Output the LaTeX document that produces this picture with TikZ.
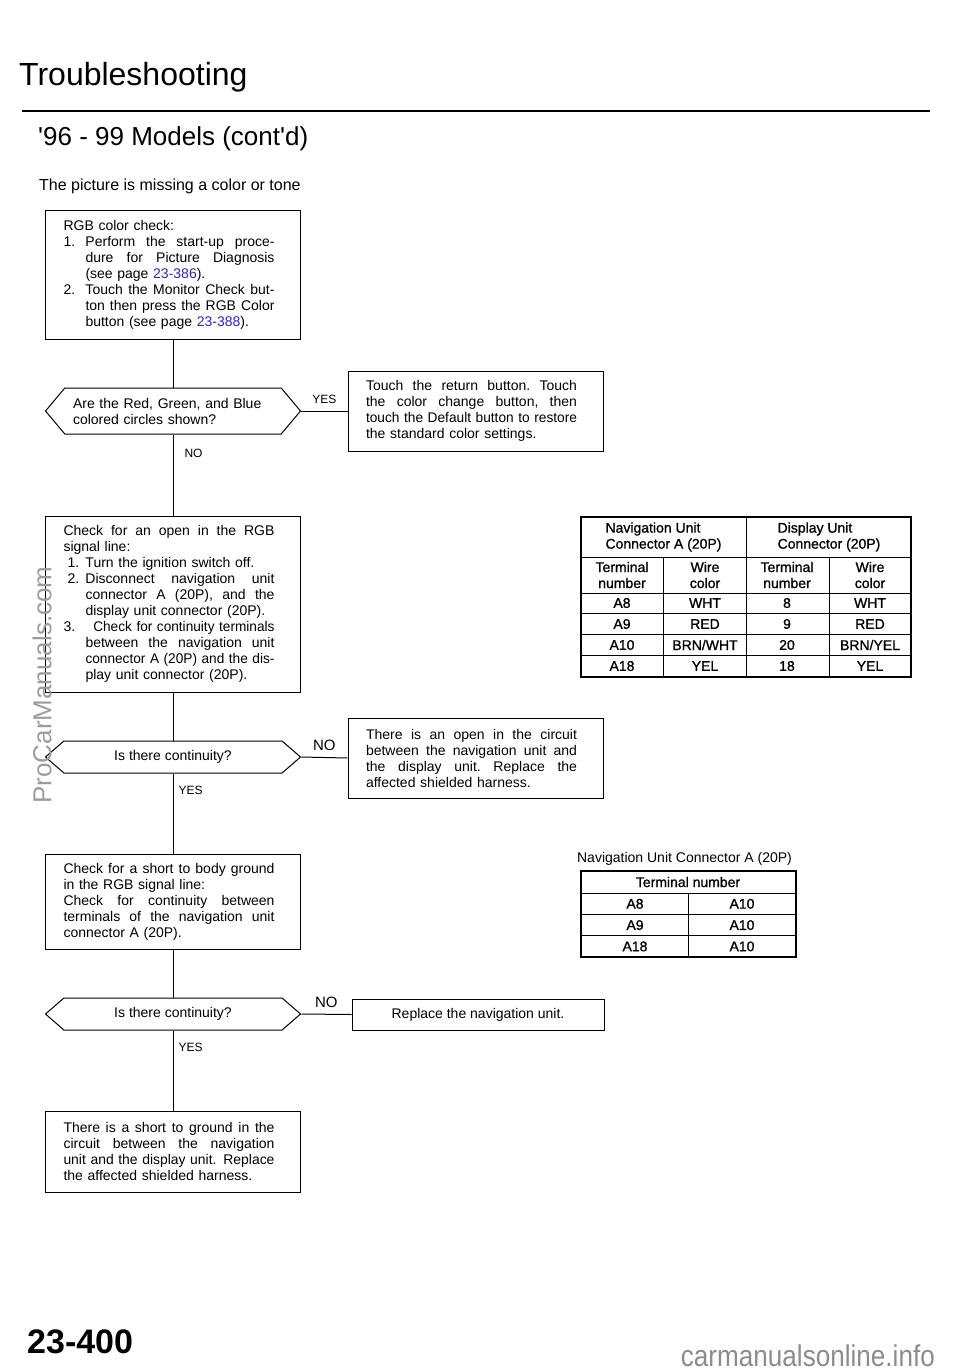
\documentclass[tikz,border=0pt]{standalone}
\usepackage{fontspec}
\setmainfont{Liberation Sans}
\newfontfamily\tablefamily[FakeBold=1]{Liberation Sans}
\usepackage{tikz}
\usetikzlibrary{shapes.symbols}
\definecolor{linkblue}{HTML}{2424E4}
\definecolor{markgray}{HTML}{9C9C9C}
\definecolor{sitegray}{HTML}{8C8C8C}

\newcommand{\bodyfont}{\fontsize{14}{16}\selectfont}
\newcommand{\cellfont}{\tablefamily\fontsize{14}{16}\selectfont}
\newlength{\linew}
\setlength{\linew}{211pt}
% spread the words of one line over a given width (squeeze it if too long)
\ExplSyntaxOn
\tl_new:N \l_jl_line_tl
\box_new:N \l_jl_box
\dim_new:N \l_jl_dim
\cs_new_protected:Npn \jfill #1 #2
  {
    \dim_set:Nn \l_jl_dim {#1}
    \hbox_set:Nn \l_jl_box {#2}
    \dim_compare:nNnTF { \box_wd:N \l_jl_box } > { \l_jl_dim }
      {
        \box_scale:Nnn \l_jl_box
          { \fp_eval:n { \dim_to_fp:n { \l_jl_dim } / \dim_to_fp:n { \box_wd:N \l_jl_box } } }
          { 1 }
        \mode_leave_vertical:
        \box_use_drop:N \l_jl_box
      }
      {
        \tl_set:Nn \l_jl_line_tl {#2}
        \tl_replace_all:Nnn \l_jl_line_tl { ~ } { \hfill }
        \makebox [ \l_jl_dim ] [s] { \l_jl_line_tl }
      }
  }
\ExplSyntaxOff
% justified line, numbered line, indented lines
\newcommand{\jline}[1]{\jfill{\linew}{#1}}
\newcommand{\jnum}[2]{\makebox[22pt][l]{#1}\jfill{\linew-22pt}{#2}}
\newcommand{\jind}[1]{\hspace*{22pt}\jfill{\linew-22pt}{#1}}
\newcommand{\lind}[1]{\hspace*{22pt}#1}

\begin{document}
\begin{tikzpicture}[x=1pt, y=-1pt,
  box/.style={draw, line width=1pt, text width=219pt, inner xsep=18pt, inner ysep=0pt, align=left, font=\bodyfont},
  choice/.style={draw, line width=1pt, shape=signal, signal to=east and west, signal pointer angle=#1, minimum width=255pt, inner sep=0pt, font=\bodyfont},
  conn/.style={line width=1pt},
  lbl/.style={font=\fontsize{12}{14}\selectfont, inner sep=2pt},
  bigl/.style={font=\fontsize{15}{17}\selectfont, inner sep=2pt},
  cell/.style={font=\cellfont, align=center, inner sep=0pt},
  tbl/.style={line width=1.3pt}]
  \useasboundingbox (0,0) rectangle (960,1371);

  % heading
  \node[anchor=base west, inner sep=0pt, font=\fontsize{32}{36}\selectfont] (title) at (19,85) {Troubleshooting};
  \draw[line width=2pt] (22,111) -- (930,111);
  \node[anchor=base west, inner sep=0pt, font=\fontsize{26}{30}\selectfont] (models) at (38,145) {\textquotesingle 96 - 99 Models (cont\textquotesingle d)};
  \node[anchor=base west, inner sep=0pt, font=\fontsize{16}{20}\selectfont] (symptom) at (39,190) {The picture is missing a color or tone};

  % left column
  \node[box, minimum height=129pt] (rgb) at (173,274.5) {%
    RGB color check:\\
    \jnum{1.}{Perform the start-up proce-}\\
    \jind{dure for Picture Diagnosis}\\
    \lind{(see page \textcolor{linkblue}{23-386}).}\\
    \jnum{2.}{Touch the Monitor Check but-}\\
    \jind{ton then press the RGB Color}\\
    \lind{button (see page \textcolor{linkblue}{23-388}).}};
  \node[choice=100, minimum height=46pt, text width=200pt, align=left] (circles) at (173,411) {Are the Red, Green, and Blue\\colored circles shown?};
  \node[box, minimum height=176pt] (open) at (173,604) {%
    \jline{Check for an open in the RGB}\\
    signal line:\\
    \hspace*{4pt}\makebox[18pt][l]{1.}Turn the ignition switch off.\\
    \hspace*{4pt}\makebox[18pt][l]{2.}\jfill{\linew-22pt}{Disconnect navigation unit}\\
    \jind{connector A (20P), and the}\\
    \lind{display unit connector (20P).}\\
    \jnum{3.}{\hspace*{8pt}Check for continuity terminals}\\
    \jind{between the navigation unit}\\
    \jind{connector A (20P) and the dis-}\\
    \lind{play unit connector (20P).}};
  \node[choice=82, minimum height=32pt] (cont1) at (173,757) {Is there continuity?};
  \node[box, minimum height=95pt] (short) at (173,901.5) {%
    \jline{Check for a short to body ground}\\
    in the RGB signal line:\\
    \jline{Check for continuity between}\\
    \jline{terminals of the navigation unit}\\
    connector A (20P).};
  \node[choice=82, minimum height=32pt] (cont2) at (173,1014) {Is there continuity?};
  \node[box, minimum height=81pt] (shortres) at (173,1151.5) {%
    \jline{There is a short to ground in the}\\
    \jline{circuit between the navigation}\\
    \jline{unit and the display unit. Replace}\\
    the affected shielded harness.};

  % right column
  \node[box, minimum height=80pt] (deflt) at (475.5,411) {%
    \jline{Touch the return button. Touch}\\
    \jline{the color change button, then}\\
    \jline{touch the Default button to restore}\\
    the standard color settings.};
  \node[box, minimum height=80pt] (openres) at (475.5,758) {%
    \jline{There is an open in the circuit}\\
    \jline{between the navigation unit and}\\
    \jline{the display unit. Replace the}\\
    affected shielded harness.};
  \node[draw, line width=1pt, minimum width=252pt, minimum height=31pt, inner sep=0pt, font=\bodyfont] (repl) at (478,1014.5) {Replace the navigation unit.};

  % connectors
  \draw[conn] (rgb.south) -- (circles.north);
  \draw[conn] (circles.east) -- node[lbl, above, yshift=5pt] {YES} (deflt.west);
  \draw[conn] (circles.south) -- node[lbl, right, pos=0.23, xshift=9pt] {NO} (open.north);
  \draw[conn] (open.south) -- (cont1.north);
  \draw[conn] (cont1.east) -- node[bigl, above, yshift=4pt] {NO} (openres.west);
  \draw[conn] (cont1.south) -- node[lbl, right, pos=0.21, xshift=3pt] {YES} (short.north);
  \draw[conn] (short.south) -- (cont2.north);
  \draw[conn] (cont2.east) -- node[bigl, above, yshift=4pt] {NO} (repl.west);
  \draw[conn] (cont2.south) -- node[lbl, right, pos=0.21, xshift=3pt] {YES} (shortres.north);

  % wire color table
  \draw[tbl] (581,517) rectangle (911,677);
  \foreach \y in {557,593,613,634,655} \draw[line width=1pt] (581,\y) -- (911,\y);
  \draw[line width=1pt] (746,517) -- (746,677);
  \foreach \x in {663,829} \draw[line width=1pt] (\x,557) -- (\x,677);
  \node[cell, align=left] (navhd) at (663.5,537) {Navigation Unit\\Connector A (20P)};
  \node[cell, align=left] (dsphd) at (829,537) {Display Unit\\Connector (20P)};
  \foreach \x in {622,787} \node[cell] (tn\x) at (\x,575) {Terminal\\number};
  \foreach \x in {705,870} \node[cell] (wc\x) at (\x,575) {Wire\\color};
  \foreach \a/\b/\c/\d [count=\i] in {A8/WHT/8/WHT, A9/RED/9/RED, A10/{BRN/WHT}/20/{BRN/YEL}, A18/YEL/18/YEL}{
    \pgfmathsetmacro\y{582+21*\i}
    \node[cell] (na\i) at (622,\y) {\a};
    \node[cell] (nb\i) at (705,\y) {\b};
    \node[cell] (nc\i) at (787,\y) {\c};
    \node[cell] (nd\i) at (870,\y) {\d};
  }

  % terminal table
  \node[anchor=base, inner sep=0pt, font=\bodyfont] (conhd) at (684.5,862) {Navigation Unit Connector A (20P)};
  \draw[tbl] (581,871) rectangle (796,957);
  \foreach \y in {893,914,935} \draw[line width=1pt] (581,\y) -- (796,\y);
  \draw[line width=1pt] (688,893) -- (688,957);
  \node[cell] (tnhd) at (688,882) {Terminal number};
  \foreach \a [count=\i] in {A8,A9,A18}{
    \pgfmathsetmacro\y{882.5+21.3*\i}
    \node[cell] (ta\i) at (635,\y) {\a};
    \node[cell] (tb\i) at (742,\y) {A10};
  }

  % page marks
  \node[rotate=90, text=markgray, inner sep=0pt, font=\fontsize{26}{28}\selectfont] (procar) at (42,685) {ProCarManuals.com};
  \node[anchor=base west, inner sep=0pt, font=\fontsize{34}{36}\selectfont\bfseries] (pgno) at (27,1353) {23-400};
  \node[anchor=base east, xscale=0.87, text=sitegray, inner sep=0pt, font=\fontsize{30}{32}\selectfont] (site) at (935,1366) {carmanualsonline.info};
\end{tikzpicture}
\end{document}
